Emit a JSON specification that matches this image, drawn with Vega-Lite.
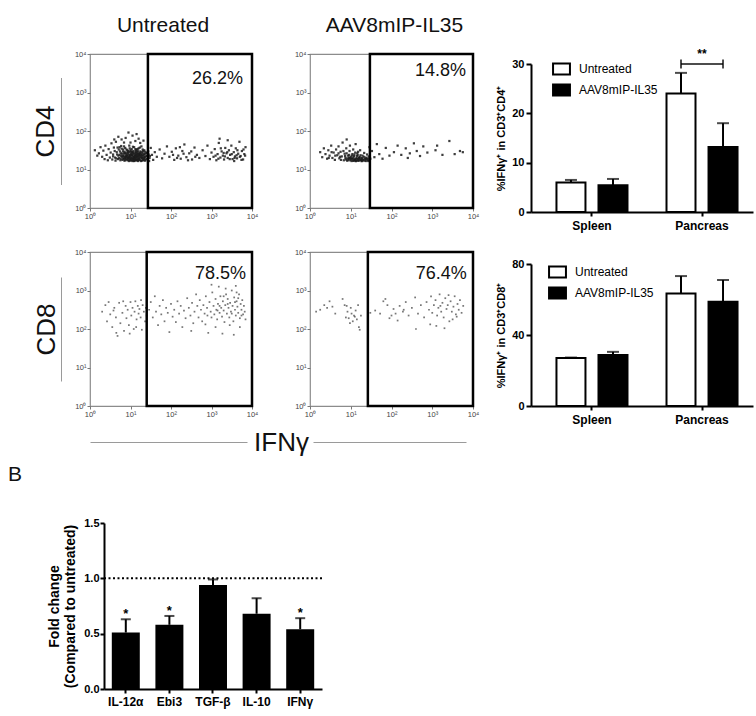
{
  "$schema": "https://vega.github.io/schema/vega-lite/v6.json",
  "background": "white",
  "padding": {"left": 8, "top": 14, "right": 2, "bottom": 4},
  "config": {
    "font": "Liberation Sans",
    "view": {"stroke": null},
    "axis": {"grid": false},
    "title": {"font": "Liberation Sans", "color": "#111"}
  },
  "datasets": {
    "cd4_untreated": [
      {"ifng":0.62,"cd":1.31},{"ifng":0.66,"cd":1.45},{"ifng":0.69,"cd":1.27},{"ifng":0.71,"cd":1.52},{"ifng":0.73,"cd":1.38},{"ifng":0.75,"cd":1.24},{"ifng":0.77,"cd":1.61},{"ifng":0.79,"cd":1.33},{"ifng":0.81,"cd":1.47},{"ifng":0.82,"cd":1.29},
      {"ifng":0.84,"cd":1.41},{"ifng":0.85,"cd":1.23},{"ifng":0.87,"cd":1.56},{"ifng":0.88,"cd":1.35},{"ifng":0.9,"cd":1.44},{"ifng":0.91,"cd":1.26},{"ifng":0.92,"cd":1.5},{"ifng":0.94,"cd":1.31},{"ifng":0.95,"cd":1.39},{"ifng":0.96,"cd":1.22},
      {"ifng":0.97,"cd":1.62},{"ifng":0.98,"cd":1.28},{"ifng":0.99,"cd":1.46},{"ifng":1.0,"cd":1.34},{"ifng":1.01,"cd":1.41},{"ifng":1.02,"cd":1.24},{"ifng":1.03,"cd":1.53},{"ifng":1.04,"cd":1.3},{"ifng":1.05,"cd":1.37},{"ifng":1.06,"cd":1.27},
      {"ifng":1.07,"cd":1.48},{"ifng":1.08,"cd":1.33},{"ifng":1.09,"cd":1.58},{"ifng":1.1,"cd":1.23},{"ifng":1.11,"cd":1.42},{"ifng":1.12,"cd":1.29},{"ifng":1.13,"cd":1.36},{"ifng":1.14,"cd":1.51},{"ifng":1.15,"cd":1.25},{"ifng":1.16,"cd":1.4},
      {"ifng":1.17,"cd":1.32},{"ifng":1.18,"cd":1.45},{"ifng":1.19,"cd":1.22},{"ifng":1.2,"cd":1.55},{"ifng":1.21,"cd":1.28},{"ifng":1.22,"cd":1.38},{"ifng":1.24,"cd":1.47},{"ifng":1.25,"cd":1.24},{"ifng":1.26,"cd":1.34},{"ifng":1.27,"cd":1.6},
      {"ifng":1.28,"cd":1.3},{"ifng":1.3,"cd":1.43},{"ifng":1.31,"cd":1.26},{"ifng":1.32,"cd":1.37},{"ifng":1.34,"cd":1.5},{"ifng":1.35,"cd":1.23},{"ifng":1.36,"cd":1.33},{"ifng":1.38,"cd":1.42},{"ifng":1.4,"cd":1.28},{"ifng":1.42,"cd":1.36},
      {"ifng":0.7,"cd":1.36},{"ifng":0.76,"cd":1.42},{"ifng":0.8,"cd":1.25},{"ifng":0.83,"cd":1.35},{"ifng":0.86,"cd":1.3},{"ifng":0.89,"cd":1.4},{"ifng":0.93,"cd":1.24},{"ifng":0.94,"cd":1.48},{"ifng":0.97,"cd":1.36},{"ifng":1.0,"cd":1.27},
      {"ifng":1.0,"cd":1.5},{"ifng":1.03,"cd":1.38},{"ifng":1.05,"cd":1.22},{"ifng":1.06,"cd":1.44},{"ifng":1.08,"cd":1.26},{"ifng":1.1,"cd":1.35},{"ifng":1.12,"cd":1.47},{"ifng":1.13,"cd":1.24},{"ifng":1.15,"cd":1.32},{"ifng":1.17,"cd":1.53},
      {"ifng":1.18,"cd":1.27},{"ifng":1.2,"cd":1.37},{"ifng":1.22,"cd":1.25},{"ifng":1.23,"cd":1.43},{"ifng":1.25,"cd":1.31},{"ifng":1.27,"cd":1.39},{"ifng":1.29,"cd":1.23},{"ifng":1.3,"cd":1.52},{"ifng":1.33,"cd":1.29},{"ifng":1.35,"cd":1.4},
      {"ifng":0.98,"cd":1.32},{"ifng":1.04,"cd":1.45},{"ifng":1.09,"cd":1.3},{"ifng":1.14,"cd":1.39},{"ifng":0.91,"cd":1.35},{"ifng":0.85,"cd":1.46},{"ifng":1.16,"cd":1.26},{"ifng":1.21,"cd":1.33},{"ifng":0.95,"cd":1.29},{"ifng":1.11,"cd":1.25},
      {"ifng":0.57,"cd":1.34},{"ifng":0.61,"cd":1.48},{"ifng":0.63,"cd":1.23},{"ifng":0.67,"cd":1.39},{"ifng":0.68,"cd":1.57},{"ifng":0.72,"cd":1.3},{"ifng":0.74,"cd":1.47},{"ifng":0.76,"cd":1.28},{"ifng":0.78,"cd":1.54},{"ifng":0.79,"cd":1.41},
      {"ifng":0.81,"cd":1.36},{"ifng":0.83,"cd":1.27},{"ifng":0.84,"cd":1.6},{"ifng":0.86,"cd":1.43},{"ifng":0.87,"cd":1.24},{"ifng":0.89,"cd":1.33},{"ifng":0.9,"cd":1.52},{"ifng":0.92,"cd":1.38},{"ifng":0.93,"cd":1.29},{"ifng":0.94,"cd":1.43},
      {"ifng":0.96,"cd":1.33},{"ifng":0.97,"cd":1.25},{"ifng":0.98,"cd":1.55},{"ifng":0.99,"cd":1.37},{"ifng":1.01,"cd":1.3},{"ifng":1.02,"cd":1.47},{"ifng":1.03,"cd":1.26},{"ifng":1.04,"cd":1.36},{"ifng":1.06,"cd":1.59},{"ifng":1.07,"cd":1.32},
      {"ifng":1.08,"cd":1.41},{"ifng":1.09,"cd":1.22},{"ifng":1.11,"cd":1.37},{"ifng":1.12,"cd":1.53},{"ifng":1.13,"cd":1.28},{"ifng":1.14,"cd":1.44},{"ifng":1.16,"cd":1.35},{"ifng":1.17,"cd":1.23},{"ifng":1.18,"cd":1.49},{"ifng":1.19,"cd":1.34},
      {"ifng":1.21,"cd":1.41},{"ifng":1.22,"cd":1.29},{"ifng":1.23,"cd":1.57},{"ifng":1.24,"cd":1.36},{"ifng":1.26,"cd":1.22},{"ifng":1.27,"cd":1.45},{"ifng":1.28,"cd":1.37},{"ifng":1.29,"cd":1.3},{"ifng":1.31,"cd":1.48},{"ifng":1.32,"cd":1.25},
      {"ifng":1.33,"cd":1.39},{"ifng":1.34,"cd":1.32},{"ifng":1.36,"cd":1.46},{"ifng":1.37,"cd":1.24},{"ifng":1.39,"cd":1.35},{"ifng":1.41,"cd":1.44},{"ifng":1.43,"cd":1.27},{"ifng":1.45,"cd":1.39},{"ifng":1.46,"cd":1.22},{"ifng":1.48,"cd":1.35},
      {"ifng":0.65,"cd":1.29},{"ifng":0.73,"cd":1.58},{"ifng":0.82,"cd":1.52},{"ifng":0.88,"cd":1.27},{"ifng":0.95,"cd":1.46},{"ifng":1.0,"cd":1.23},{"ifng":1.05,"cd":1.42},{"ifng":1.1,"cd":1.29},{"ifng":1.15,"cd":1.46},{"ifng":1.2,"cd":1.26},
      {"ifng":1.25,"cd":1.41},{"ifng":1.3,"cd":1.34},{"ifng":1.35,"cd":1.28},{"ifng":0.9,"cd":1.31},{"ifng":1.0,"cd":1.39},{"ifng":1.07,"cd":1.24},{"ifng":1.13,"cd":1.33},{"ifng":1.19,"cd":1.4},{"ifng":0.77,"cd":1.35},{"ifng":0.85,"cd":1.32},
      {"ifng":0.22,"cd":1.42},{"ifng":0.26,"cd":1.58},{"ifng":0.3,"cd":1.33},{"ifng":0.33,"cd":1.49},{"ifng":0.36,"cd":1.27},{"ifng":0.38,"cd":1.62},{"ifng":0.41,"cd":1.38},{"ifng":0.44,"cd":1.24},{"ifng":0.46,"cd":1.53},{"ifng":0.49,"cd":1.31},
      {"ifng":0.51,"cd":1.44},{"ifng":0.53,"cd":1.68},{"ifng":0.55,"cd":1.26},{"ifng":0.57,"cd":1.39},{"ifng":0.59,"cd":1.57},{"ifng":0.64,"cd":1.72},{"ifng":0.78,"cd":1.78},{"ifng":0.88,"cd":1.82},{"ifng":1.0,"cd":1.7},{"ifng":1.05,"cd":1.88},
      {"ifng":1.12,"cd":1.74},{"ifng":1.2,"cd":1.8},{"ifng":1.24,"cd":1.69},{"ifng":1.44,"cd":1.47},{"ifng":1.47,"cd":1.3},{"ifng":1.5,"cd":1.56},{"ifng":1.53,"cd":1.38},{"ifng":1.56,"cd":1.25},{"ifng":1.6,"cd":1.45},{"ifng":1.65,"cd":1.33},
      {"ifng":0.12,"cd":1.5},{"ifng":0.18,"cd":1.36},{"ifng":0.7,"cd":1.85},{"ifng":0.95,"cd":1.96},{"ifng":1.15,"cd":1.92},{"ifng":0.6,"cd":1.78},{"ifng":1.32,"cd":1.75},{"ifng":0.84,"cd":1.7},
      {"ifng":1.72,"cd":1.52},{"ifng":1.78,"cd":1.29},{"ifng":1.84,"cd":1.41},{"ifng":1.9,"cd":1.6},{"ifng":1.96,"cd":1.33},{"ifng":2.02,"cd":1.46},{"ifng":2.08,"cd":1.25},{"ifng":2.12,"cd":1.55},{"ifng":2.18,"cd":1.36},{"ifng":2.24,"cd":1.28},
      {"ifng":2.28,"cd":1.48},{"ifng":2.33,"cd":1.65},{"ifng":2.38,"cd":1.32},{"ifng":2.45,"cd":1.42},{"ifng":2.52,"cd":1.26},{"ifng":2.58,"cd":1.57},{"ifng":2.64,"cd":1.38},{"ifng":2.7,"cd":1.3},{"ifng":2.78,"cd":1.5},{"ifng":2.85,"cd":1.35},
      {"ifng":2.9,"cd":1.62},{"ifng":2.96,"cd":1.27},{"ifng":3.0,"cd":1.44},{"ifng":3.05,"cd":1.33},{"ifng":3.08,"cd":1.53},{"ifng":3.12,"cd":1.24},{"ifng":3.15,"cd":1.4},{"ifng":3.18,"cd":1.69},{"ifng":3.22,"cd":1.31},{"ifng":3.25,"cd":1.47},
      {"ifng":3.28,"cd":1.36},{"ifng":3.31,"cd":1.26},{"ifng":3.34,"cd":1.56},{"ifng":3.37,"cd":1.42},{"ifng":3.4,"cd":1.3},{"ifng":3.43,"cd":1.5},{"ifng":3.46,"cd":1.38},{"ifng":3.49,"cd":1.62},{"ifng":3.52,"cd":1.27},{"ifng":3.55,"cd":1.45},
      {"ifng":3.58,"cd":1.34},{"ifng":3.6,"cd":1.55},{"ifng":3.63,"cd":1.29},{"ifng":3.66,"cd":1.41},{"ifng":3.69,"cd":1.72},{"ifng":3.72,"cd":1.35},{"ifng":3.75,"cd":1.48},{"ifng":3.78,"cd":1.26},{"ifng":3.81,"cd":1.4},{"ifng":3.84,"cd":1.58},
      {"ifng":3.4,"cd":1.76},{"ifng":3.2,"cd":1.8},{"ifng":3.56,"cd":1.22},{"ifng":3.3,"cd":1.43},{"ifng":3.62,"cd":1.37},
      {"ifng":2.05,"cd":1.38},{"ifng":2.15,"cd":1.3},{"ifng":2.22,"cd":1.58},{"ifng":2.31,"cd":1.41},{"ifng":2.42,"cd":1.24},{"ifng":2.5,"cd":1.47},{"ifng":2.6,"cd":1.33},{"ifng":3.1,"cd":1.36},{"ifng":3.17,"cd":1.28},{"ifng":3.23,"cd":1.55},
      {"ifng":3.33,"cd":1.34},{"ifng":3.39,"cd":1.45},{"ifng":3.45,"cd":1.27},{"ifng":3.5,"cd":1.4},{"ifng":3.57,"cd":1.3},{"ifng":3.64,"cd":1.5},{"ifng":3.7,"cd":1.33},{"ifng":3.74,"cd":1.25},{"ifng":3.79,"cd":1.52},{"ifng":3.83,"cd":1.36}
    ],
    "cd4_treated": [
      {"ifng":0.25,"cd":1.45},{"ifng":0.3,"cd":1.32},{"ifng":0.34,"cd":1.55},{"ifng":0.38,"cd":1.4},{"ifng":0.42,"cd":1.28},{"ifng":0.45,"cd":1.5},{"ifng":0.48,"cd":1.36},{"ifng":0.52,"cd":1.62},{"ifng":0.55,"cd":1.3},{"ifng":0.58,"cd":1.44},
      {"ifng":0.61,"cd":1.25},{"ifng":0.64,"cd":1.52},{"ifng":0.67,"cd":1.37},{"ifng":0.7,"cd":1.6},{"ifng":0.72,"cd":1.29},{"ifng":0.75,"cd":1.46},{"ifng":0.78,"cd":1.34},{"ifng":0.8,"cd":1.7},{"ifng":0.83,"cd":1.24},{"ifng":0.85,"cd":1.41},
      {"ifng":0.87,"cd":1.3},{"ifng":0.89,"cd":1.55},{"ifng":0.91,"cd":1.23},{"ifng":0.93,"cd":1.36},{"ifng":0.95,"cd":1.27},{"ifng":0.97,"cd":1.48},{"ifng":0.99,"cd":1.24},{"ifng":1.0,"cd":1.33},{"ifng":1.02,"cd":1.22},{"ifng":1.04,"cd":1.4},
      {"ifng":1.05,"cd":1.28},{"ifng":1.07,"cd":1.23},{"ifng":1.08,"cd":1.35},{"ifng":1.1,"cd":1.25},{"ifng":1.11,"cd":1.44},{"ifng":1.13,"cd":1.22},{"ifng":1.14,"cd":1.3},{"ifng":1.16,"cd":1.24},{"ifng":1.17,"cd":1.38},{"ifng":1.19,"cd":1.27},
      {"ifng":1.2,"cd":1.23},{"ifng":1.22,"cd":1.33},{"ifng":1.23,"cd":1.5},{"ifng":1.25,"cd":1.25},{"ifng":1.26,"cd":1.29},{"ifng":1.28,"cd":1.22},{"ifng":1.29,"cd":1.36},{"ifng":1.31,"cd":1.26},{"ifng":1.33,"cd":1.43},{"ifng":1.34,"cd":1.23},
      {"ifng":1.36,"cd":1.31},{"ifng":1.38,"cd":1.27},{"ifng":1.4,"cd":1.39},{"ifng":1.42,"cd":1.24},{"ifng":1.44,"cd":1.34},{"ifng":1.46,"cd":1.58},{"ifng":1.48,"cd":1.28},{"ifng":0.9,"cd":1.78},{"ifng":0.98,"cd":1.62},{"ifng":1.06,"cd":1.52},
      {"ifng":1.12,"cd":1.66},{"ifng":1.18,"cd":1.46},{"ifng":1.03,"cd":1.29},{"ifng":1.09,"cd":1.24},{"ifng":1.15,"cd":1.35},{"ifng":0.96,"cd":1.31},{"ifng":1.21,"cd":1.3},{"ifng":1.27,"cd":1.26},{"ifng":0.82,"cd":1.48},{"ifng":0.76,"cd":1.25},
      {"ifng":0.86,"cd":1.35},{"ifng":0.88,"cd":1.26},{"ifng":0.9,"cd":1.42},{"ifng":0.92,"cd":1.29},{"ifng":0.94,"cd":1.24},{"ifng":0.96,"cd":1.38},{"ifng":0.98,"cd":1.3},{"ifng":1.01,"cd":1.27},{"ifng":1.03,"cd":1.36},{"ifng":1.06,"cd":1.23},
      {"ifng":1.07,"cd":1.31},{"ifng":1.09,"cd":1.39},{"ifng":1.11,"cd":1.27},{"ifng":1.12,"cd":1.22},{"ifng":1.15,"cd":1.28},{"ifng":1.16,"cd":1.42},{"ifng":1.18,"cd":1.23},{"ifng":1.2,"cd":1.31},{"ifng":1.22,"cd":1.26},{"ifng":1.24,"cd":1.37},
      {"ifng":1.26,"cd":1.22},{"ifng":1.28,"cd":1.3},{"ifng":1.3,"cd":1.24},{"ifng":1.32,"cd":1.33},{"ifng":1.35,"cd":1.27},{"ifng":1.37,"cd":1.22},{"ifng":1.39,"cd":1.3},{"ifng":1.41,"cd":1.27},{"ifng":1.43,"cd":1.22},{"ifng":1.45,"cd":1.29},
      {"ifng":0.7,"cd":1.42},{"ifng":0.74,"cd":1.33},{"ifng":0.62,"cd":1.36},{"ifng":0.53,"cd":1.45},{"ifng":0.46,"cd":1.3},
      {"ifng":1.52,"cd":1.48},{"ifng":1.58,"cd":1.32},{"ifng":1.64,"cd":1.66},{"ifng":1.7,"cd":1.4},{"ifng":1.78,"cd":1.28},{"ifng":1.86,"cd":1.56},{"ifng":1.95,"cd":1.36},{"ifng":2.06,"cd":1.45},{"ifng":2.15,"cd":1.62},{"ifng":2.24,"cd":1.38},
      {"ifng":2.35,"cd":1.55},{"ifng":2.45,"cd":1.42},{"ifng":2.55,"cd":1.68},{"ifng":2.62,"cd":1.48},{"ifng":2.7,"cd":1.35},{"ifng":2.78,"cd":1.6},{"ifng":2.88,"cd":1.44},{"ifng":3.08,"cd":1.5},{"ifng":3.12,"cd":1.62},{"ifng":3.25,"cd":1.38},
      {"ifng":3.42,"cd":1.74},{"ifng":3.55,"cd":1.4},{"ifng":3.68,"cd":1.48},{"ifng":3.75,"cd":1.45},{"ifng":2.4,"cd":1.3}
    ],
    "cd8_untreated": [
      {"ifng":0.3,"cd":2.45},{"ifng":0.38,"cd":2.62},{"ifng":0.42,"cd":2.2},{"ifng":0.5,"cd":2.38},{"ifng":0.55,"cd":2.05},{"ifng":0.6,"cd":2.55},{"ifng":0.64,"cd":2.3},{"ifng":0.68,"cd":1.82},{"ifng":0.72,"cd":2.68},{"ifng":0.75,"cd":2.15},
      {"ifng":0.8,"cd":2.42},{"ifng":0.84,"cd":1.95},{"ifng":0.88,"cd":2.6},{"ifng":0.9,"cd":2.28},{"ifng":0.93,"cd":2.5},{"ifng":0.96,"cd":2.1},{"ifng":1.0,"cd":2.7},{"ifng":1.02,"cd":2.35},{"ifng":1.05,"cd":2.55},{"ifng":1.08,"cd":2.0},
      {"ifng":1.1,"cd":2.45},{"ifng":1.12,"cd":2.72},{"ifng":1.15,"cd":2.25},{"ifng":1.18,"cd":2.6},{"ifng":1.2,"cd":2.4},{"ifng":1.22,"cd":2.52},{"ifng":1.25,"cd":2.3},{"ifng":1.28,"cd":1.98},{"ifng":1.3,"cd":2.62},{"ifng":1.33,"cd":2.45},
      {"ifng":1.36,"cd":2.2},{"ifng":1.38,"cd":2.55},{"ifng":1.4,"cd":2.35},{"ifng":0.46,"cd":2.7},{"ifng":0.65,"cd":1.9},{"ifng":0.98,"cd":1.88},{"ifng":1.14,"cd":2.05},{"ifng":0.82,"cd":2.72},{"ifng":1.26,"cd":2.75},{"ifng":0.58,"cd":2.48},
      {"ifng":1.46,"cd":2.5},{"ifng":1.5,"cd":2.7},{"ifng":1.55,"cd":2.3},{"ifng":1.6,"cd":2.85},{"ifng":1.63,"cd":2.45},{"ifng":1.68,"cd":2.1},{"ifng":1.72,"cd":2.6},{"ifng":1.76,"cd":2.38},{"ifng":1.8,"cd":2.75},{"ifng":1.84,"cd":2.2},
      {"ifng":1.88,"cd":2.55},{"ifng":1.92,"cd":2.42},{"ifng":1.96,"cd":1.92},{"ifng":2.0,"cd":2.65},{"ifng":2.04,"cd":2.32},{"ifng":2.08,"cd":2.5},{"ifng":2.12,"cd":2.18},{"ifng":2.16,"cd":2.72},{"ifng":2.2,"cd":2.4},{"ifng":2.24,"cd":2.6},
      {"ifng":2.28,"cd":2.05},{"ifng":2.32,"cd":2.48},{"ifng":2.36,"cd":2.28},{"ifng":2.4,"cd":2.8},{"ifng":2.44,"cd":2.55},{"ifng":2.48,"cd":2.35},{"ifng":2.52,"cd":2.68},{"ifng":2.55,"cd":2.15},{"ifng":2.58,"cd":2.45},{"ifng":2.62,"cd":2.9},
      {"ifng":2.65,"cd":2.6},{"ifng":2.68,"cd":2.3},{"ifng":2.71,"cd":2.75},{"ifng":2.74,"cd":2.5},{"ifng":2.77,"cd":2.2},{"ifng":2.8,"cd":2.62},{"ifng":2.83,"cd":2.4},{"ifng":2.86,"cd":2.85},{"ifng":2.89,"cd":2.55},{"ifng":2.92,"cd":1.9},
      {"ifng":2.95,"cd":2.7},{"ifng":2.98,"cd":2.45},{"ifng":3.0,"cd":2.3},{"ifng":3.02,"cd":2.95},{"ifng":3.05,"cd":2.6},{"ifng":3.07,"cd":2.38},{"ifng":3.1,"cd":2.78},{"ifng":3.12,"cd":2.5},{"ifng":3.14,"cd":2.25},{"ifng":3.16,"cd":2.65},
      {"ifng":3.18,"cd":3.1},{"ifng":3.2,"cd":2.42},{"ifng":3.22,"cd":2.85},{"ifng":3.24,"cd":2.55},{"ifng":3.26,"cd":2.32},{"ifng":3.28,"cd":2.72},{"ifng":3.3,"cd":2.48},{"ifng":3.32,"cd":2.18},{"ifng":3.34,"cd":2.62},{"ifng":3.36,"cd":2.9},
      {"ifng":3.38,"cd":2.4},{"ifng":3.4,"cd":2.78},{"ifng":3.42,"cd":2.55},{"ifng":3.44,"cd":2.3},{"ifng":3.46,"cd":2.68},{"ifng":3.48,"cd":2.45},{"ifng":3.5,"cd":3.0},{"ifng":3.52,"cd":2.6},{"ifng":3.54,"cd":2.2},{"ifng":3.56,"cd":2.82},
      {"ifng":3.58,"cd":2.5},{"ifng":3.6,"cd":2.35},{"ifng":3.62,"cd":2.72},{"ifng":3.64,"cd":2.58},{"ifng":3.66,"cd":2.42},{"ifng":3.68,"cd":2.9},{"ifng":3.7,"cd":2.28},{"ifng":3.72,"cd":2.65},{"ifng":3.74,"cd":2.5},{"ifng":3.76,"cd":2.75},
      {"ifng":3.78,"cd":2.38},{"ifng":3.8,"cd":2.6},{"ifng":3.82,"cd":2.45},{"ifng":3.84,"cd":2.25},{"ifng":3.27,"cd":1.88},{"ifng":3.55,"cd":1.85},{"ifng":3.35,"cd":3.05},{"ifng":3.6,"cd":3.12},{"ifng":3.0,"cd":3.15},{"ifng":2.85,"cd":2.12},
      {"ifng":3.1,"cd":2.05},{"ifng":3.45,"cd":2.1},{"ifng":3.7,"cd":2.05},{"ifng":2.5,"cd":1.95},{"ifng":3.62,"cd":2.95},{"ifng":3.4,"cd":2.65},{"ifng":3.5,"cd":2.4},{"ifng":3.3,"cd":2.85},{"ifng":3.15,"cd":2.48},{"ifng":3.58,"cd":2.7},
      {"ifng":3.74,"cd":2.35},{"ifng":3.2,"cd":2.6},{"ifng":3.66,"cd":2.8},{"ifng":2.9,"cd":2.35}
    ],
    "cd8_treated": [
      {"ifng":0.15,"cd":2.45},{"ifng":0.25,"cd":2.5},{"ifng":0.35,"cd":2.62},{"ifng":0.42,"cd":2.55},{"ifng":0.48,"cd":2.72},{"ifng":0.55,"cd":2.58},{"ifng":0.8,"cd":2.78},{"ifng":0.85,"cd":2.62},{"ifng":0.88,"cd":2.3},{"ifng":0.92,"cd":2.45},
      {"ifng":0.95,"cd":2.28},{"ifng":1.0,"cd":2.55},{"ifng":1.02,"cd":2.4},{"ifng":1.05,"cd":2.2},{"ifng":1.08,"cd":2.35},{"ifng":1.12,"cd":2.48},{"ifng":1.15,"cd":2.25},{"ifng":1.18,"cd":2.62},{"ifng":1.2,"cd":2.05},{"ifng":1.22,"cd":1.98},
      {"ifng":0.98,"cd":2.15},{"ifng":0.9,"cd":2.6},{"ifng":1.1,"cd":2.32},{"ifng":0.62,"cd":2.4},{"ifng":1.25,"cd":2.35},
      {"ifng":1.48,"cd":2.42},{"ifng":1.6,"cd":2.48},{"ifng":1.72,"cd":2.4},{"ifng":1.8,"cd":2.72},{"ifng":1.85,"cd":2.78},{"ifng":1.9,"cd":2.62},{"ifng":1.95,"cd":2.28},{"ifng":2.0,"cd":2.35},{"ifng":2.05,"cd":2.52},{"ifng":2.1,"cd":2.4},
      {"ifng":2.15,"cd":2.22},{"ifng":2.2,"cd":2.6},{"ifng":2.28,"cd":2.45},{"ifng":2.35,"cd":2.7},{"ifng":2.42,"cd":2.35},{"ifng":2.5,"cd":2.55},{"ifng":2.58,"cd":2.82},{"ifng":2.65,"cd":2.4},{"ifng":2.72,"cd":2.62},{"ifng":2.8,"cd":2.3},
      {"ifng":2.86,"cd":2.7},{"ifng":2.92,"cd":2.5},{"ifng":2.97,"cd":2.85},{"ifng":3.0,"cd":2.42},{"ifng":3.04,"cd":2.62},{"ifng":3.08,"cd":2.75},{"ifng":3.12,"cd":2.35},{"ifng":3.15,"cd":2.55},{"ifng":3.18,"cd":2.9},{"ifng":3.22,"cd":2.45},
      {"ifng":3.25,"cd":2.68},{"ifng":3.28,"cd":2.3},{"ifng":3.32,"cd":2.8},{"ifng":3.35,"cd":2.52},{"ifng":3.38,"cd":2.62},{"ifng":3.42,"cd":2.2},{"ifng":3.45,"cd":2.72},{"ifng":3.48,"cd":2.45},{"ifng":3.52,"cd":2.58},{"ifng":3.55,"cd":2.85},
      {"ifng":3.58,"cd":2.38},{"ifng":3.62,"cd":2.65},{"ifng":3.65,"cd":2.5},{"ifng":3.68,"cd":2.75},{"ifng":3.72,"cd":2.42},{"ifng":3.76,"cd":2.6},{"ifng":3.1,"cd":2.08},{"ifng":3.3,"cd":2.02},{"ifng":2.95,"cd":2.12},{"ifng":3.5,"cd":2.25},
      {"ifng":2.6,"cd":2.0},{"ifng":3.4,"cd":2.88},{"ifng":3.6,"cd":2.32},{"ifng":2.3,"cd":2.5},{"ifng":3.2,"cd":2.6}
    ],
    "gates": [
      {"panel":"cd4_untreated","gate":1.43,"pct":0.262},
      {"panel":"cd4_treated","gate":1.47,"pct":0.148},
      {"panel":"cd8_untreated","gate":1.4,"pct":0.785},
      {"panel":"cd8_treated","gate":1.42,"pct":0.764}
    ],
    "cd4_bars": [
      {"tissue":"Spleen","group":"Untreated","mean":6.0,"upper":6.5},
      {"tissue":"Spleen","group":"AAV8mIP-IL35","mean":5.4,"upper":6.7},
      {"tissue":"Pancreas","group":"Untreated","mean":24.0,"upper":28.2},
      {"tissue":"Pancreas","group":"AAV8mIP-IL35","mean":13.2,"upper":18.0}
    ],
    "cd4_sig": [
      {"tissue":"Pancreas","from":"Untreated","to":"AAV8mIP-IL35","p":"**"}
    ],
    "cd8_bars": [
      {"tissue":"Spleen","group":"Untreated","mean":27.0,"upper":27.3},
      {"tissue":"Spleen","group":"AAV8mIP-IL35","mean":28.8,"upper":30.5},
      {"tissue":"Pancreas","group":"Untreated","mean":63.4,"upper":73.2},
      {"tissue":"Pancreas","group":"AAV8mIP-IL35","mean":58.7,"upper":71.0}
    ],
    "genes": [
      {"gene":"IL-12α","fold":0.51,"upper":0.63,"sig":"*"},
      {"gene":"Ebi3","fold":0.58,"upper":0.66,"sig":"*"},
      {"gene":"TGF-β","fold":0.94,"upper":0.99,"sig":""},
      {"gene":"IL-10","fold":0.68,"upper":0.82,"sig":""},
      {"gene":"IFNγ","fold":0.54,"upper":0.64,"sig":"*"}
    ],
    "untreated_level": [{"fold":1}]
  },
  "columns": 3,
  "bounds": "flush",
  "align": {"row": "each", "column": "none"},
  "spacing": {"row": 40, "column": 58},
  "resolve": {"scale": {"fill": "independent"}, "legend": {"fill": "independent"}},
  "concat": [
    {
      "width": 162, "height": 154,
      "view": {"stroke": "#8c8c8c", "strokeWidth": 1.2},
      "title": {"text": "Untreated", "fontSize": 21, "fontWeight": "normal", "frame": "group", "dx": -8, "offset": 14},
      "resolve": {"axis": {"x": "independent", "y": "independent"}},
      "layer": [
        {
          "data": {"name": "cd4_untreated"},
          "mark": {"type": "square", "size": 5, "color": "#1c1c1c", "opacity": 0.85},
          "encoding": {
            "x": {"field": "ifng", "type": "quantitative", "scale": {"domain": [0, 4], "nice": false, "zero": false},
              "axis": {"orient": "bottom", "values": [0,1,2,3,4], "labelExpr": "'10' + ['⁰','¹','²','³','⁴'][datum.value]", "title": null, "domain": false, "tickColor": "#777", "tickSize": 3, "labelFontSize": 7.5, "labelColor": "#444", "labelPadding": 1, "labelFlush": false, "labelOverlap": false}},
            "y": {"field": "cd", "type": "quantitative", "scale": {"domain": [0, 4], "nice": false, "zero": false},
              "axis": {"orient": "left", "values": [0,1,2,3,4], "labelExpr": "'10' + ['⁰','¹','²','³','⁴'][datum.value]", "title": null, "domain": false, "tickColor": "#777", "tickSize": 3, "labelFontSize": 7.5, "labelColor": "#444", "labelPadding": 1, "labelFlush": false, "labelOverlap": false}}
          }
        },
        {
          "data": {"name": "gates"},
          "transform": [{"filter": "datum.panel == 'cd4_untreated'"}],
          "mark": {"type": "rect", "fillOpacity": 0, "stroke": "black", "strokeWidth": 2.5},
          "encoding": {
            "x": {"field": "gate", "type": "quantitative", "scale": {"domain": [0, 4], "nice": false, "zero": false}, "axis": null},
            "x2": {"datum": 4},
            "y": {"datum": 0, "type": "quantitative", "scale": {"domain": [0, 4], "nice": false, "zero": false},
              "axis": {"orient": "left", "offset": 29, "domainColor": "#9a9a9a", "domainWidth": 1, "domainDash": [0, 23.5, 107, 400], "ticks": false, "labels": false, "title": "CD4", "titleFontSize": 26, "titleFontWeight": "normal", "titleColor": "#111", "titlePadding": 8, "titleBaseline": "alphabetic"}},
            "y2": {"datum": 4}
          }
        },
        {
          "data": {"name": "gates"},
          "transform": [{"filter": "datum.panel == 'cd4_untreated'"}],
          "mark": {"type": "text", "fontSize": 18, "align": "right", "baseline": "alphabetic", "color": "#111"},
          "encoding": {
            "x": {"datum": 3.78, "type": "quantitative", "scale": {"domain": [0, 4], "nice": false, "zero": false}, "axis": null},
            "y": {"datum": 3.22, "type": "quantitative", "scale": {"domain": [0, 4], "nice": false, "zero": false}, "axis": null},
            "text": {"field": "pct", "type": "quantitative", "format": ".1%"}
          }
        }
      ]
    },
    {
      "width": 163, "height": 154,
      "view": {"stroke": "#8c8c8c", "strokeWidth": 1.2},
      "title": {"text": "AAV8mIP-IL35", "fontSize": 21, "fontWeight": "normal", "frame": "group", "dx": 3, "offset": 14},
      "resolve": {"axis": {"x": "independent", "y": "independent"}},
      "layer": [
        {
          "data": {"name": "cd4_treated"},
          "mark": {"type": "square", "size": 5, "color": "#1c1c1c", "opacity": 0.85},
          "encoding": {
            "x": {"field": "ifng", "type": "quantitative", "scale": {"domain": [0, 4], "nice": false, "zero": false},
              "axis": {"orient": "bottom", "values": [0,1,2,3,4], "labelExpr": "'10' + ['⁰','¹','²','³','⁴'][datum.value]", "title": null, "domain": false, "tickColor": "#777", "tickSize": 3, "labelFontSize": 7.5, "labelColor": "#444", "labelPadding": 1, "labelFlush": false, "labelOverlap": false}},
            "y": {"field": "cd", "type": "quantitative", "scale": {"domain": [0, 4], "nice": false, "zero": false},
              "axis": {"orient": "left", "values": [0,1,2,3,4], "labelExpr": "'10' + ['⁰','¹','²','³','⁴'][datum.value]", "title": null, "domain": false, "tickColor": "#777", "tickSize": 3, "labelFontSize": 7.5, "labelColor": "#444", "labelPadding": 1, "labelFlush": false, "labelOverlap": false}}
          }
        },
        {
          "data": {"name": "gates"},
          "transform": [{"filter": "datum.panel == 'cd4_treated'"}],
          "mark": {"type": "rect", "fillOpacity": 0, "stroke": "black", "strokeWidth": 2.5},
          "encoding": {
            "x": {"field": "gate", "type": "quantitative", "scale": {"domain": [0, 4], "nice": false, "zero": false}, "axis": null},
            "x2": {"datum": 4},
            "y": {"datum": 0, "type": "quantitative", "scale": {"domain": [0, 4], "nice": false, "zero": false}, "axis": null},
            "y2": {"datum": 4}
          }
        },
        {
          "data": {"name": "gates"},
          "transform": [{"filter": "datum.panel == 'cd4_treated'"}],
          "mark": {"type": "text", "fontSize": 18, "align": "right", "baseline": "alphabetic", "color": "#111"},
          "encoding": {
            "x": {"datum": 3.83, "type": "quantitative", "scale": {"domain": [0, 4], "nice": false, "zero": false}, "axis": null},
            "y": {"datum": 3.43, "type": "quantitative", "scale": {"domain": [0, 4], "nice": false, "zero": false}, "axis": null},
            "text": {"field": "pct", "type": "quantitative", "format": ".1%"}
          }
        }
      ]
    },
    {
      "width": 222, "height": 158,
      "data": {"name": "cd4_bars"},
      "encoding": {
        "x": {"field": "tissue", "type": "nominal", "sort": ["Spleen", "Pancreas"],
          "scale": {"paddingInner": 0.2545, "paddingOuter": 0.136, "align": 0.667},
          "axis": {"title": null, "domainColor": "black", "domainWidth": 2, "tickColor": "black", "tickWidth": 2, "tickSize": 4, "labelAngle": 0, "labelFontSize": 12, "labelFontWeight": "bold", "labelColor": "black", "labelPadding": 4}}
      },
      "layer": [
        {
          "mark": {"type": "bar", "stroke": "black", "strokeWidth": 2},
          "encoding": {
            "xOffset": {"field": "group", "type": "nominal", "sort": ["Untreated", "AAV8mIP-IL35"], "scale": {"paddingInner": 0.31, "paddingOuter": 0.131}},
            "y": {"field": "mean", "type": "quantitative", "scale": {"domain": [0, 30], "nice": false, "range": [158, 10]},
              "axis": {"values": [0, 10, 20, 30], "domainColor": "black", "domainWidth": 2, "tickColor": "black", "tickWidth": 2, "tickSize": 5, "labelFontSize": 11, "labelFontWeight": "bold", "labelColor": "black", "labelPadding": 2, "title": "%IFNγ⁺ in CD3⁺CD4⁺", "titleFontSize": 11, "titleFontWeight": "bold", "titleColor": "black", "titlePadding": 5}},
            "fill": {"field": "group", "type": "nominal", "scale": {"domain": ["Untreated", "AAV8mIP-IL35"], "range": ["white", "black"]},
              "legend": {"orient": "none", "legendX": 23, "legendY": 7.5, "title": null, "symbolType": "M-1.3,-0.85H1.3V0.85H-1.3Z", "symbolSize": 169, "symbolStrokeColor": "black", "symbolStrokeWidth": 2, "labelFontSize": 12, "labelColor": "black", "labelOffset": 10, "rowPadding": 0}}
          }
        },
        {
          "mark": {"type": "rule", "color": "black", "strokeWidth": 2},
          "encoding": {
            "xOffset": {"field": "group", "type": "nominal", "sort": ["Untreated", "AAV8mIP-IL35"], "scale": {"paddingInner": 0.31, "paddingOuter": 0.131}},
            "y": {"field": "mean", "type": "quantitative"},
            "y2": {"field": "upper"}
          }
        },
        {
          "mark": {"type": "tick", "orient": "horizontal", "size": 12, "thickness": 2, "color": "black"},
          "encoding": {
            "xOffset": {"field": "group", "type": "nominal", "sort": ["Untreated", "AAV8mIP-IL35"], "scale": {"paddingInner": 0.31, "paddingOuter": 0.131}},
            "y": {"field": "upper", "type": "quantitative"}
          }
        },
        {
          "data": {"name": "cd4_sig"},
          "mark": {"type": "tick", "orient": "horizontal", "size": 42, "thickness": 2, "color": "black"},
          "encoding": {"y": {"datum": 30, "type": "quantitative"}}
        },
        {
          "data": {"name": "cd4_sig"},
          "transform": [{"fold": ["from", "to"], "as": ["end", "group"]}],
          "mark": {"type": "tick", "orient": "vertical", "size": 9, "thickness": 2, "color": "black"},
          "encoding": {
            "xOffset": {"field": "group", "type": "nominal", "sort": ["Untreated", "AAV8mIP-IL35"], "scale": {"paddingInner": 0.31, "paddingOuter": 0.131}},
            "y": {"datum": 30, "type": "quantitative"}
          }
        },
        {
          "data": {"name": "cd4_sig"},
          "mark": {"type": "text", "fontSize": 12, "fontWeight": "bold", "baseline": "bottom", "dy": -3, "color": "black"},
          "encoding": {"y": {"datum": 30, "type": "quantitative"}, "text": {"field": "p"}}
        }
      ]
    },
    {
      "width": 162, "height": 154,
      "view": {"stroke": "#8c8c8c", "strokeWidth": 1.2},
      "resolve": {"axis": {"x": "independent", "y": "independent"}},
      "layer": [
        {
          "data": {"name": "cd8_untreated"},
          "mark": {"type": "square", "size": 3, "color": "#4a4a4a", "opacity": 0.75},
          "encoding": {
            "x": {"field": "ifng", "type": "quantitative", "scale": {"domain": [0, 4], "nice": false, "zero": false},
              "axis": {"orient": "bottom", "values": [0,1,2,3,4], "labelExpr": "'10' + ['⁰','¹','²','³','⁴'][datum.value]", "title": null, "domain": false, "tickColor": "#777", "tickSize": 3, "labelFontSize": 7.5, "labelColor": "#444", "labelPadding": 1, "labelFlush": false, "labelOverlap": false}},
            "y": {"field": "cd", "type": "quantitative", "scale": {"domain": [0, 4], "nice": false, "zero": false},
              "axis": {"orient": "left", "values": [0,1,2,3,4], "labelExpr": "'10' + ['⁰','¹','²','³','⁴'][datum.value]", "title": null, "domain": false, "tickColor": "#777", "tickSize": 3, "labelFontSize": 7.5, "labelColor": "#444", "labelPadding": 1, "labelFlush": false, "labelOverlap": false}}
          }
        },
        {
          "data": {"name": "gates"},
          "transform": [{"filter": "datum.panel == 'cd8_untreated'"}],
          "mark": {"type": "rect", "fillOpacity": 0, "stroke": "black", "strokeWidth": 2.5},
          "encoding": {
            "x": {"field": "gate", "type": "quantitative", "scale": {"domain": [0, 4], "nice": false, "zero": false},
              "axis": {"orient": "bottom", "offset": 36, "domainColor": "#9a9a9a", "domainWidth": 1, "domainDash": [157, 400], "ticks": false, "labels": false, "title": null}},
            "x2": {"datum": 4},
            "y": {"datum": 0, "type": "quantitative", "scale": {"domain": [0, 4], "nice": false, "zero": false},
              "axis": {"orient": "left", "offset": 29, "domainColor": "#9a9a9a", "domainWidth": 1, "domainDash": [0, 25, 104, 400], "ticks": false, "labels": false, "title": "CD8", "titleFontSize": 26, "titleFontWeight": "normal", "titleColor": "#111", "titlePadding": 7, "titleBaseline": "alphabetic"}},
            "y2": {"datum": 4}
          }
        },
        {
          "data": {"name": "gates"},
          "transform": [{"filter": "datum.panel == 'cd8_untreated'"}],
          "mark": {"type": "text", "fontSize": 18, "align": "right", "baseline": "alphabetic", "color": "#111"},
          "encoding": {
            "x": {"datum": 3.85, "type": "quantitative", "scale": {"domain": [0, 4], "nice": false, "zero": false}, "axis": null},
            "y": {"datum": 3.3, "type": "quantitative", "scale": {"domain": [0, 4], "nice": false, "zero": false}, "axis": null},
            "text": {"field": "pct", "type": "quantitative", "format": ".1%"}
          }
        }
      ]
    },
    {
      "width": 163, "height": 154,
      "view": {"stroke": "#8c8c8c", "strokeWidth": 1.2},
      "resolve": {"axis": {"x": "independent", "y": "independent"}},
      "layer": [
        {
          "data": {"name": "cd8_treated"},
          "mark": {"type": "square", "size": 3, "color": "#4a4a4a", "opacity": 0.75},
          "encoding": {
            "x": {"field": "ifng", "type": "quantitative", "scale": {"domain": [0, 4], "nice": false, "zero": false},
              "axis": {"orient": "bottom", "values": [0,1,2,3,4], "labelExpr": "'10' + ['⁰','¹','²','³','⁴'][datum.value]", "title": null, "domain": false, "tickColor": "#777", "tickSize": 3, "labelFontSize": 7.5, "labelColor": "#444", "labelPadding": 1, "labelFlush": false, "labelOverlap": false}},
            "y": {"field": "cd", "type": "quantitative", "scale": {"domain": [0, 4], "nice": false, "zero": false},
              "axis": {"orient": "left", "values": [0,1,2,3,4], "labelExpr": "'10' + ['⁰','¹','²','³','⁴'][datum.value]", "title": null, "domain": false, "tickColor": "#777", "tickSize": 3, "labelFontSize": 7.5, "labelColor": "#444", "labelPadding": 1, "labelFlush": false, "labelOverlap": false}}
          }
        },
        {
          "data": {"name": "gates"},
          "transform": [{"filter": "datum.panel == 'cd8_treated'"}],
          "mark": {"type": "rect", "fillOpacity": 0, "stroke": "black", "strokeWidth": 2.5},
          "encoding": {
            "x": {"field": "gate", "type": "quantitative", "scale": {"domain": [0, 4], "nice": false, "zero": false},
              "axis": {"orient": "bottom", "offset": 36, "domainColor": "#9a9a9a", "domainWidth": 1, "domainDash": [0, 3, 153, 400], "ticks": false, "labels": false,
                "title": "IFNγ", "titleFontSize": 26, "titleFontWeight": "normal", "titleColor": "#111", "titleX": -29, "titleY": 0, "titleBaseline": "middle", "titleAlign": "center", "titleAngle": 0}},
            "x2": {"datum": 4},
            "y": {"datum": 0, "type": "quantitative", "scale": {"domain": [0, 4], "nice": false, "zero": false}, "axis": null},
            "y2": {"datum": 4}
          }
        },
        {
          "data": {"name": "gates"},
          "transform": [{"filter": "datum.panel == 'cd8_treated'"}],
          "mark": {"type": "text", "fontSize": 18, "align": "right", "baseline": "alphabetic", "color": "#111"},
          "encoding": {
            "x": {"datum": 3.85, "type": "quantitative", "scale": {"domain": [0, 4], "nice": false, "zero": false}, "axis": null},
            "y": {"datum": 3.3, "type": "quantitative", "scale": {"domain": [0, 4], "nice": false, "zero": false}, "axis": null},
            "text": {"field": "pct", "type": "quantitative", "format": ".1%"}
          }
        }
      ]
    },
    {
      "width": 222, "height": 154,
      "data": {"name": "cd8_bars"},
      "encoding": {
        "x": {"field": "tissue", "type": "nominal", "sort": ["Spleen", "Pancreas"],
          "scale": {"paddingInner": 0.2545, "paddingOuter": 0.136, "align": 0.667},
          "axis": {"title": null, "domainColor": "black", "domainWidth": 2, "tickColor": "black", "tickWidth": 2, "tickSize": 4, "labelAngle": 0, "labelFontSize": 12, "labelFontWeight": "bold", "labelColor": "black", "labelPadding": 4}}
      },
      "layer": [
        {
          "mark": {"type": "bar", "stroke": "black", "strokeWidth": 2},
          "encoding": {
            "xOffset": {"field": "group", "type": "nominal", "sort": ["Untreated", "AAV8mIP-IL35"], "scale": {"paddingInner": 0.31, "paddingOuter": 0.131}},
            "y": {"field": "mean", "type": "quantitative", "scale": {"domain": [0, 80], "nice": false, "range": [154, 12]},
              "axis": {"values": [0, 20, 40, 60, 80], "domainColor": "black", "domainWidth": 2, "tickColor": "black", "tickWidth": 2, "tickSize": 5, "labelFontSize": 11, "labelFontWeight": "bold", "labelColor": "black", "labelPadding": 2, "title": "%IFNγ⁺ in CD3⁺CD8⁺", "titleFontSize": 11, "titleFontWeight": "bold", "titleColor": "black", "titlePadding": 5}},
            "fill": {"field": "group", "type": "nominal", "scale": {"domain": ["Untreated", "AAV8mIP-IL35"], "range": ["white", "black"]},
              "legend": {"orient": "none", "legendX": 19, "legendY": 12.5, "title": null, "symbolType": "M-1.3,-0.85H1.3V0.85H-1.3Z", "symbolSize": 169, "symbolStrokeColor": "black", "symbolStrokeWidth": 2, "labelFontSize": 12, "labelColor": "black", "labelOffset": 10, "rowPadding": 0}}
          }
        },
        {
          "mark": {"type": "rule", "color": "black", "strokeWidth": 2},
          "encoding": {
            "xOffset": {"field": "group", "type": "nominal", "sort": ["Untreated", "AAV8mIP-IL35"], "scale": {"paddingInner": 0.31, "paddingOuter": 0.131}},
            "y": {"field": "mean", "type": "quantitative"},
            "y2": {"field": "upper"}
          }
        },
        {
          "mark": {"type": "tick", "orient": "horizontal", "size": 12, "thickness": 2, "color": "black"},
          "encoding": {
            "xOffset": {"field": "group", "type": "nominal", "sort": ["Untreated", "AAV8mIP-IL35"], "scale": {"paddingInner": 0.31, "paddingOuter": 0.131}},
            "y": {"field": "upper", "type": "quantitative"}
          }
        }
      ]
    },
    {
      "width": 162, "height": 243,
      "title": {"text": "B", "anchor": "start", "frame": "group", "fontSize": 21, "fontWeight": "normal", "color": "#111", "dx": -82, "dy": 56, "offset": 0, "baseline": "alphabetic"},
      "resolve": {"scale": {"x": "independent"}},
      "layer": [
        {
          "data": {"name": "genes"},
          "encoding": {
            "x": {"field": "gene", "type": "nominal", "sort": ["IL-12α", "Ebi3", "TGF-β", "IL-10", "IFNγ"],
              "scale": {"paddingInner": 0.358, "paddingOuter": 0.179, "range": [14, 232]},
              "axis": {"title": null, "domainColor": "black", "domainWidth": 2, "tickColor": "black", "tickWidth": 2, "tickSize": 4, "labelAngle": 0, "labelFontSize": 12, "labelFontWeight": "bold", "labelColor": "black", "labelPadding": 3}}
          },
          "layer": [
            {
              "mark": {"type": "bar", "color": "black"},
              "encoding": {
                "y": {"field": "fold", "type": "quantitative", "scale": {"domain": [0, 1.5], "nice": false, "range": [243, 77]},
                  "axis": {"values": [0, 0.5, 1, 1.5], "format": ".1f", "offset": -14, "domainColor": "black", "domainWidth": 2, "tickColor": "black", "tickWidth": 2, "tickSize": 4, "labelFontSize": 11, "labelFontWeight": "bold", "labelColor": "black", "labelPadding": 1,
                    "title": ["Fold change", "(Compared to untreated)"], "titleFontSize": 14, "titleFontWeight": "bold", "titleColor": "black", "titlePadding": 6, "titleLineHeight": 16}}
              }
            },
            {
              "mark": {"type": "rule", "color": "black", "strokeWidth": 2},
              "encoding": {"y": {"field": "fold", "type": "quantitative"}, "y2": {"field": "upper"}}
            },
            {
              "mark": {"type": "tick", "orient": "horizontal", "size": 10, "thickness": 2, "color": "black"},
              "encoding": {"y": {"field": "upper", "type": "quantitative"}}
            },
            {
              "mark": {"type": "text", "fontSize": 13, "fontWeight": "bold", "baseline": "bottom", "dy": 2, "color": "black"},
              "encoding": {"y": {"field": "upper", "type": "quantitative"}, "text": {"field": "sig"}}
            }
          ]
        },
        {
          "data": {"name": "untreated_level"},
          "mark": {"type": "rule", "color": "black", "strokeWidth": 2, "strokeDash": [2, 2.5]},
          "encoding": {
            "x": {"datum": 0, "type": "quantitative", "scale": {"domain": [0, 1], "range": [14, 232]}, "axis": null},
            "x2": {"datum": 1},
            "y": {"field": "fold", "type": "quantitative"}
          }
        }
      ]
    }
  ]
}
